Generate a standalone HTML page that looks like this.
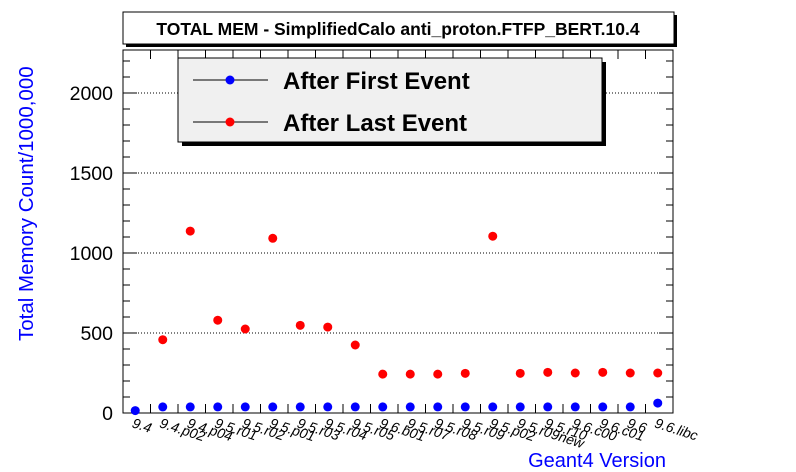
<!DOCTYPE html>
<html><head><meta charset="utf-8"><style>body{margin:0;background:#fff}svg{display:block;font-family:"Liberation Sans",Arial,sans-serif}</style></head>
<body>
<svg id="chart" width="796" height="472" viewBox="0 0 796 472" xmlns="http://www.w3.org/2000/svg">
<rect x="0" y="0" width="796" height="472" fill="#fff"/>
<g>
<rect x="126" y="15" width="551" height="32" fill="#000"/>
<rect x="123" y="12" width="551" height="32" fill="#fff" stroke="#000" stroke-width="1"/>
<text x="398" y="35" text-anchor="middle" font-size="17.5" font-weight="bold">TOTAL MEM - SimplifiedCalo anti_proton.FTFP_BERT.10.4</text>
</g>
<g id="grid"></g>
<g id="axes"></g>
<g id="marks"></g>
<g>
<rect x="182" y="62" width="424" height="84" fill="#000"/>
<rect x="178" y="58" width="424" height="84" fill="#f0f0f0" stroke="#000" stroke-width="1"/>
<g>
<line x1="193" y1="80" x2="268" y2="80" stroke="#000"/>
<circle cx="230" cy="80" r="4.5" fill="#0000ff"/>
<text x="283" y="89" font-size="24" font-weight="bold">After First Event</text>
</g>
<g>
<line x1="193" y1="122" x2="268" y2="122" stroke="#000"/>
<circle cx="230" cy="122" r="4.5" fill="#ff0000"/>
<text x="283" y="131" font-size="24" font-weight="bold">After Last Event</text>
</g>
</g>
<text transform="translate(33,341) rotate(-90)" font-size="20.5" fill="#0000ff">Total Memory Count/1000,000</text>
<text x="666" y="467" text-anchor="end" font-size="20" fill="#0000ff">Geant4 Version</text>
</svg>
<script>
const categories = ["9.4","9.4.p02","9.4.p04","9.5.r01","9.5.r02","9.5.p01","9.5.r03","9.5.r04","9.5.r05","9.6.b01","9.5.r07","9.5.r08","9.5.r09","9.5.p02","9.5.r09new","9.5.r10","9.6.c00","9.6.c01","9.6","9.6.libc"];
const afterFirst = [15,38,38,38,38,38,38,38,38,38,38,38,38,38,38,38,38,38,38,62];
const afterLast = [null,458,1137,580,525,1092,548,537,425,243,243,243,248,1105,248,254,250,254,250,250];
const yTicks = [0,500,1000,1500,2000];
const NS="http://www.w3.org/2000/svg";
const L=123,R=673,T=50,B=413,yMax=2268.75;
const xs=i=>L+(R-L)/categories.length*(i+0.5)-1.5;
const ys=v=>B-(B-T)*v/yMax;
function mk(t,a,p){const e=document.createElementNS(NS,t);for(const k in a)e.setAttribute(k,a[k]);p.appendChild(e);return e;}
const grid=document.getElementById('grid'),axes=document.getElementById('axes'),marks=document.getElementById('marks');
yTicks.forEach(v=>{if(v>0){const g=mk('line',{x1:L,x2:R,y1:ys(v),y2:ys(v),stroke:'#000','stroke-dasharray':'1 2'},grid);

}
const tl=mk('line',{x1:L,x2:L+14,y1:ys(v),y2:ys(v),stroke:'#000'},axes);


mk('line',{x1:R,x2:R-14,y1:ys(v),y2:ys(v),stroke:'#000'},axes);
const t=mk('text',{x:L-10,y:ys(v)+7,'text-anchor':'end','font-size':19.5},axes);t.textContent=v;

});
for(let v=100;v<yMax;v+=100){if(v%500)mk('line',{x1:L,x2:L+7,y1:ys(v),y2:ys(v),stroke:'#000'},axes),mk('line',{x1:R,x2:R-7,y1:ys(v),y2:ys(v),stroke:'#000'},axes);}
const fr=mk('rect',{x:L,y:T,width:R-L,height:B-T,fill:'none',stroke:'#000'},axes);


const bw=(R-L)/categories.length;
categories.forEach((c,i)=>{const x=L+bw*(i+1);if(i<categories.length-1){mk('line',{x1:x,x2:x,y1:B,y2:B-9,stroke:'#000'},axes);mk('line',{x1:x,x2:x,y1:T,y2:T+9,stroke:'#000'},axes);}
const t=mk('text',{x:xs(i)-4,y:B+14,'font-size':14,'font-style':'italic',transform:`rotate(18 ${xs(i)-4} ${B+14})`},axes);t.textContent=c;

});
afterFirst.forEach((v,i)=>{if(v==null)return;const p=mk('circle',{cx:xs(i),cy:ys(v),r:4.5,fill:'#0000ff'},marks);

});
afterLast.forEach((v,i)=>{if(v==null)return;const p=mk('circle',{cx:xs(i),cy:ys(v),r:4.5,fill:'#ff0000'},marks);

});
</script>
</body></html>
